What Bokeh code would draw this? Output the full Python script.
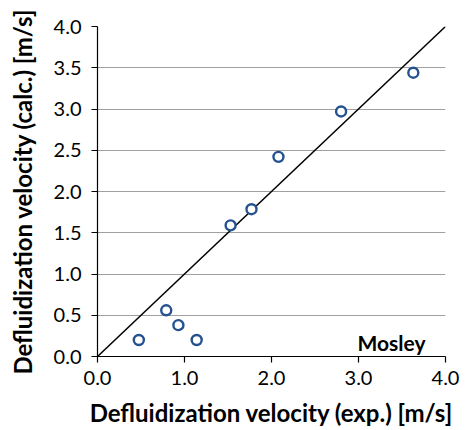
from bokeh.plotting import figure
from bokeh.embed import file_html
from bokeh.resources import INLINE
from bokeh.models import FixedTicker, Range1d
from bokeh.core.properties import value

# Data
x_exp = [0.475, 0.79, 0.93, 1.14, 1.53, 1.77, 2.08, 2.80, 3.63]
y_calc = [0.20, 0.56, 0.38, 0.20, 1.59, 1.785, 2.42, 2.97, 3.44]
parity_x = [0.0, 4.0]
parity_y = [0.0, 4.0]
x_ticks = [0, 1, 2, 3, 4]
y_ticks = [0, 0.5, 1.0, 1.5, 2.0, 2.5, 3.0, 3.5, 4.0]
label_text = ["Mosley"]
label_x = [3.77]
label_y = [0.02]

FONT = "Lato"

p = figure(width=466, height=430, output_backend="svg", toolbar_location=None,
           x_range=Range1d(0, 4), y_range=Range1d(0, 4),
           min_border_left=97, min_border_right=21, min_border_top=26, min_border_bottom=74)
p.outline_line_color = None
p.background_fill_color = "white"
p.border_fill_color = "white"

p.xgrid.grid_line_color = None
p.ygrid.grid_line_color = "#a0a0a0"
p.ygrid.grid_line_width = 1.2
p.ygrid.ticker = FixedTicker(ticks=y_ticks)

p.xaxis.ticker = FixedTicker(ticks=x_ticks)
p.yaxis.ticker = FixedTicker(ticks=y_ticks)
p.xaxis.major_label_overrides = {t: f"{t:.1f}" for t in x_ticks}
p.yaxis.major_label_overrides = {t: f"{t:.1f}" for t in y_ticks}

for ax in (p.xaxis, p.yaxis):
    ax.axis_line_color = "black"
    ax.axis_line_width = 1.2
    ax.major_tick_line_color = "black"
    ax.major_tick_line_width = 1.2
    ax.major_tick_out = 6
    ax.major_tick_in = 0
    ax.minor_tick_line_color = None
    ax.major_label_text_font = FONT
    ax.major_label_text_font_size = "20px"
    ax.major_label_text_color = "black"
    ax.axis_label_text_font = FONT
    ax.axis_label_text_font_size = "24px"
    ax.axis_label_text_font_style = "bold"
    ax.axis_label_text_color = "black"

p.xaxis.axis_label = "Defluidization velocity (exp.) [m/s]"
p.yaxis.axis_label = "Defluidization velocity (calc.) [m/s]"
p.xaxis.major_label_standoff = 8
p.yaxis.major_label_standoff = 10
p.xaxis.axis_label_standoff = 10
p.yaxis.axis_label_standoff = 14

p.line(parity_x, parity_y, line_color="black", line_width=1.5)
p.scatter(x_exp, y_calc, marker="circle", size=10, fill_color="white",
          line_color="#24528f", line_width=2.4)
p.text(x=label_x, y=label_y, text=label_text, text_align="right",
       text_baseline="bottom", text_font=value(FONT), text_font_size="21px",
       text_font_style="bold", text_color="black")

open("out.html", "w").write(file_html(p, INLINE))
